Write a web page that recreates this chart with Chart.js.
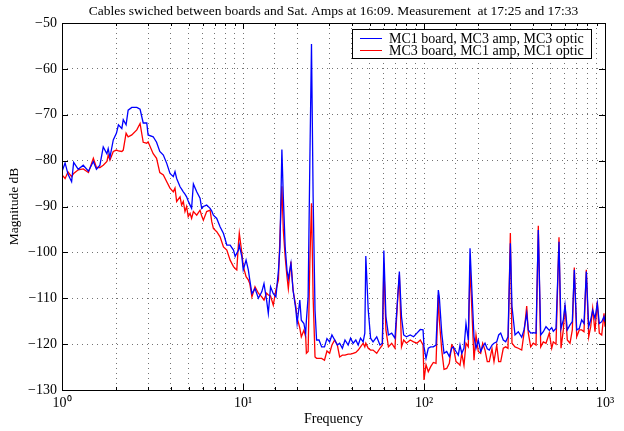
<!DOCTYPE html>
<html>
<head>
<meta charset="utf-8">
<script src="https://cdn.jsdelivr.net/npm/chart.js@4"></script>
<style>
  html, body { margin: 0; padding: 0; background: #fff; }
</style>
</head>
<body>
<canvas id="spectrum" width="624" height="431"></canvas>
<script>
// frequency points (Hz), log axis 1..1000
const freqHz = [
  1.00, 1.04, 1.08, 1.13, 1.16, 1.23, 1.31, 1.40, 1.49, 1.55, 1.62, 1.69, 1.77, 1.80, 1.84, 1.92,
  2.00, 2.05, 2.14, 2.18, 2.26, 2.32, 2.43, 2.59, 2.70, 2.81, 2.94, 2.99, 3.19, 3.33, 3.47,
  3.63, 3.79, 3.95, 4.12, 4.21, 4.30, 4.49, 4.58, 4.68, 4.78, 4.88, 4.98, 5.10, 5.20, 5.32, 5.55,
  5.79, 5.91, 6.04, 6.30, 6.58, 6.72, 6.86, 7.16, 7.47, 7.80, 8.14, 8.49, 8.86, 9.05, 9.24, 9.44,
  9.54, 9.86, 10.03, 10.4, 10.7, 10.9,
  11.2, 11.65, 12.16, 12.7, 13.06, 13.5, 13.8, 14.2, 14.7, 15.2, 15.7, 16.0, 16.4, 16.7, 17.1, 17.5,
  17.8, 18.4, 18.9, 19.6, 19.9, 20.3, 20.6, 21.0, 21.7, 22.2, 22.4, 22.9, 23.4, 23.9, 24.4, 25.0,
  25.5, 26.3, 27.2, 28.2, 29.1, 30.1, 31.0, 32.1, 33.2, 34.2,
  35.4, 36.6, 38.1, 39.3, 40.6, 42.0, 43.3, 44.6, 46.1, 47.1, 47.7, 49.2, 50.7, 52.3, 54.8, 57.1,
  58.9, 60.0, 61.6, 63.6, 66.3, 69.1, 71.6, 73.1, 75.1, 77.2, 80.0, 83.9, 87.6, 91.4, 95.4, 98.8,
  100.0, 102.6, 105.6, 108.9, 112.6, 116.5, 120.0, 121.5, 125.3, 129.0, 133.5, 138.0, 142.2, 145.2,
  150.3, 154.7, 158.1, 161.6, 166.3, 170.6, 175.7, 179.6, 183.5, 188.9, 193.8, 199.5, 205.7, 211.0,
  217.3, 223.7, 229.5, 237.5, 243.6, 252.2, 258.6, 265.3, 274.2, 282.8, 291.1, 300.0, 306.3,
  318.3, 331.9, 346.6, 356.9, 369.4, 377.0, 388.7, 401.8, 415.8, 428.1, 441.4, 456.2, 472.1, 492.4,
  507.6, 518.1, 536.2, 557.0, 571.4, 588.4, 601.3, 619.1, 640.7, 659.8, 676.8, 697.7, 721.1, 743.5,
  765.6, 788.4, 812.8, 833.7, 855.1, 880.6, 906.8, 930.1, 959.1, 987.4, 1000
];

// blue trace: MC1 board, MC3 amp, MC3 optic
const mc1BoardDb = [
  -82.4, -80.5, -83.0, -84.6, -80.4, -81.9, -81.0, -82.3, -80.2, -81.9, -81.0, -77.0, -78.5, -77.4, -79.3, -75.5,
  -74.0, -72.2, -73.0, -71.1, -72.2, -69.0, -68.4, -68.4, -68.8, -71.8, -71.8, -74.4, -74.8, -76.0, -78.0,
  -78.8, -80.6, -82.8, -83.5, -82.4, -83.9, -85.7, -86.2, -86.8, -87.3, -87.9, -88.8, -89.7, -90.4, -85.1, -86.8,
  -88.2, -90.4, -90.0, -89.7, -90.4, -91.0, -91.9, -92.6, -94.4, -95.9, -98.4, -98.4, -99.5, -100.9, -100.2, -99.5,
  -98.4, -101.0, -103.8, -101.7, -103.8, -106.0,
  -109.0, -107.9, -110.0, -108.6, -106.8, -110.4, -113.3, -107.5, -109.0, -109.7, -103.9, -98.8, -77.6, -87.9, -98.8, -103.9,
  -105.7, -102.4, -108.2, -112.6, -115.5, -112.6, -110.4, -114.8, -115.5, -117.7, -114.8, -109.7, -80.6, -54.6, -87.9, -112.6,
  -119.1, -119.1, -120.6, -120.6, -118.8, -119.5, -118.0, -119.1, -120.2, -119.8,
  -120.9, -119.1, -120.2, -118.7, -119.8, -119.1, -120.2, -118.7, -119.5, -117.6, -100.8, -112.6, -118.7, -119.5, -118.4, -120.2,
  -119.8, -99.6, -114.0, -118.0, -117.6, -118.7, -109.7, -104.2, -114.0, -118.0, -118.4, -118.0, -118.4, -117.6, -116.8, -116.9,
  -120.6, -123.1, -120.9, -120.6, -120.6, -120.2, -108.2, -109.7, -117.6, -122.0, -121.6, -122.7, -120.9, -120.6,
  -121.6, -122.4, -120.2, -122.0, -120.9, -115.5, -119.1, -99.1, -107.5, -118.4, -120.9, -119.1, -121.6, -120.6,
  -119.8, -121.0, -121.3, -120.2, -119.8, -119.5, -118.0, -117.6, -119.1, -119.5, -118.4, -98.0, -111.8,
  -118.0, -117.3, -118.5, -116.9, -113.3, -116.9, -117.6, -117.5, -117.6, -95.1, -118.0, -117.3, -116.2, -117.0,
  -116.4, -117.2, -116.6, -97.7, -116.6, -114.7, -111.5, -116.9, -115.8, -115.1, -103.8, -116.9, -116.6, -114.7,
  -115.5, -104.2, -116.2, -114.7, -112.6, -114.4, -111.1, -115.5, -115.1, -114.0, -115.1
];

// red trace: MC3 board, MC1 amp, MC1 optic
const mc3BoardDb = [
  -83.1, -83.9, -82.5, -83.5, -82.8, -82.0, -81.8, -82.6, -79.5, -81.5, -81.5, -81.0, -80.2, -78.8, -79.9, -78.0,
  -77.7, -77.9, -78.0, -77.7, -74.0, -74.8, -74.4, -73.3, -71.9, -76.0, -76.2, -75.9, -78.5, -79.5, -82.6,
  -83.1, -84.6, -86.0, -86.8, -86.0, -88.9, -87.9, -89.7, -88.9, -91.1, -90.0, -92.2, -91.5, -92.6, -91.1, -91.9,
  -90.8, -92.0, -93.0, -91.1, -90.8, -93.3, -94.8, -95.5, -96.6, -98.8, -99.5, -101.7, -103.1, -103.5, -103.8, -98.0,
  -95.8, -100.2, -103.0, -105.3, -106.0, -106.8,
  -109.7, -107.5, -108.9, -109.7, -110.4, -108.9, -109.3, -109.5, -111.5, -108.2, -106.0, -96.6, -85.6, -95.1, -101.0, -105.3,
  -107.9, -102.0, -108.2, -111.9, -114.4, -115.5, -116.5, -118.4, -117.0, -118.4, -122.0, -121.6, -102.4, -89.3, -109.7, -122.8,
  -123.1, -123.1, -123.1, -123.5, -121.5, -122.0, -120.2, -119.1, -120.2, -122.8,
  -122.4, -122.4, -122.2, -122.2, -122.0, -121.8, -121.3, -120.6, -119.8, -120.6, -119.8, -120.9, -121.3, -121.3, -122.0, -120.9,
  -120.2, -102.4, -116.9, -120.6, -119.8, -120.9, -109.7, -104.9, -120.6, -119.1, -119.8, -119.1, -119.5, -119.8, -119.1, -120.2,
  -127.8, -124.5, -126.0, -124.9, -124.0, -124.2, -109.3, -114.7, -121.3, -125.5, -125.3, -124.2, -120.2, -120.6,
  -123.8, -124.2, -124.6, -122.0, -124.6, -119.8, -120.6, -102.8, -111.8, -123.5, -118.0, -121.6, -122.0, -119.8,
  -121.3, -123.8, -123.8, -121.0, -123.8, -120.2, -123.8, -123.8, -120.9, -120.6, -120.9, -95.8, -119.8,
  -120.6, -120.9, -121.3, -117.6, -111.7, -117.6, -120.6, -119.8, -120.2, -94.2, -120.6, -119.5, -119.8, -117.6,
  -120.9, -119.5, -120.0, -96.7, -120.9, -116.9, -111.5, -119.1, -119.8, -116.9, -103.3, -118.4, -116.9, -116.9,
  -117.3, -103.8, -118.4, -116.2, -112.2, -117.3, -110.7, -117.6, -118.0, -113.3, -116.2
];

const seriesLabels = ['MC1 board, MC3 amp, MC3 optic', 'MC3 board, MC1 amp, MC1 optic'];
const seriesColors = ['#0000ff', '#ff0000'];
const yRange = [-130, -50];
const xRange = [1, 1000];

const serif = "'Liberation Serif', 'Times New Roman', serif";
const supDigits = ['\u2070', '\u00b9', '\u00b2', '\u00b3'];

function isDecade(v) {
  const e = Math.log10(v);
  return Math.abs(e - Math.round(e)) < 1e-9;
}

// matlab style box, inward ticks and the legend inside the axes
const axesDecor = {
  id: 'axesDecor',
  afterDatasetsDraw(chart) {
    const { ctx, chartArea: a, scales: { x, y } } = chart;
    ctx.save();
    ctx.strokeStyle = '#000';
    ctx.lineWidth = 1;
    ctx.beginPath();
    x.ticks.forEach(t => {
      const px = Math.round(x.getPixelForValue(t.value)) + 0.5;
      const len = isDecade(t.value) ? 6 : 3;
      ctx.moveTo(px, a.bottom); ctx.lineTo(px, a.bottom - len);
      ctx.moveTo(px, a.top); ctx.lineTo(px, a.top + len);
    });
    y.ticks.forEach(t => {
      const py = Math.round(y.getPixelForValue(t.value)) + 0.5;
      ctx.moveTo(a.left, py); ctx.lineTo(a.left + 6, py);
      ctx.moveTo(a.right, py); ctx.lineTo(a.right - 6, py);
    });
    ctx.stroke();
    ctx.strokeRect(Math.round(a.left) + 0.5, Math.round(a.top) + 0.5,
      Math.round(a.right - a.left), Math.round(a.bottom - a.top));

    // legend
    ctx.font = '14px ' + serif;
    const textW = Math.max(...seriesLabels.map(s => ctx.measureText(s).width));
    const right = Math.round(a.right) - 14;
    const top = Math.round(a.top) + 6;
    const w = 37 + textW + 7;
    const left = Math.round(right - w);
    ctx.fillStyle = '#fff';
    ctx.fillRect(left, top, w, 29);
    ctx.strokeRect(left + 0.5, top + 0.5, Math.round(w), 29);
    ctx.textBaseline = 'middle';
    chart.data.datasets.forEach((ds, i) => {
      const ly = top + 9.5 + i * 12;
      ctx.strokeStyle = ds.borderColor;
      ctx.beginPath();
      ctx.moveTo(left + 8, ly); ctx.lineTo(left + 30, ly);
      ctx.stroke();
      ctx.fillStyle = '#000';
      ctx.fillText(ds.label, left + 37, ly + 0.5);
    });
    ctx.restore();
  }
};

const ctx = document.getElementById('spectrum').getContext('2d');

const spectrumChart = new Chart(ctx, {
  type: 'line',
  data: {
    datasets: [mc1BoardDb, mc3BoardDb].map((vals, i) => ({
      label: seriesLabels[i],
      data: freqHz.map((f, j) => ({ x: f, y: vals[j] })),
      borderColor: seriesColors[i],
      borderWidth: 1.3,
      pointRadius: 0,
      tension: 0,
      fill: false
    }))
  },
  options: {
    responsive: false,
    animation: false,
    devicePixelRatio: 1,
    layout: { padding: { left: 0, right: 19, top: 0, bottom: 0 } },
    plugins: {
      legend: { display: false },
      tooltip: { enabled: false },
      title: {
        display: true,
        fullSize: false,
        text: 'Cables swiched between boards and Sat. Amps at 16:09. Measurement  at 17:25 and 17:33',
        color: '#000',
        font: { family: serif, size: 13.5, weight: 'normal' },
        padding: { top: 3, bottom: 3.8 }
      }
    },
    scales: {
      x: {
        type: 'logarithmic',
        min: xRange[0],
        max: xRange[1],
        afterFit: s => { s.height = 41; },
        grid: { color: 'rgba(0,0,0,0.55)', drawTicks: false, lineWidth: 1 },
        border: { display: false, dash: [1, 4] },
        ticks: {
          autoSkip: false,
          maxRotation: 0,
          padding: 5,
          color: '#000',
          font: { family: serif, size: 14 },
          callback: v => isDecade(v) ? '10' + supDigits[Math.round(Math.log10(v))] : ''
        },
        title: {
          display: true,
          text: 'Frequency',
          color: '#000',
          font: { family: serif, size: 14 },
          padding: { top: 0, bottom: 3 }
        }
      },
      y: {
        min: yRange[0],
        max: yRange[1],
        afterFit: s => { s.width = 62; },
        grid: { color: 'rgba(0,0,0,0.55)', drawTicks: false, lineWidth: 1 },
        border: { display: false, dash: [1, 4] },
        ticks: {
          stepSize: 10,
          padding: 5,
          color: '#000',
          font: { family: serif, size: 14 },
          callback: v => String(v).replace('-', '\u2212')
        },
        title: {
          display: true,
          text: 'Magnitude dB',
          color: '#000',
          font: { family: serif, size: 13.5 },
          padding: { top: 6, bottom: 0 }
        }
      }
    }
  },
  plugins: [axesDecor]
});
</script>
</body>
</html>
